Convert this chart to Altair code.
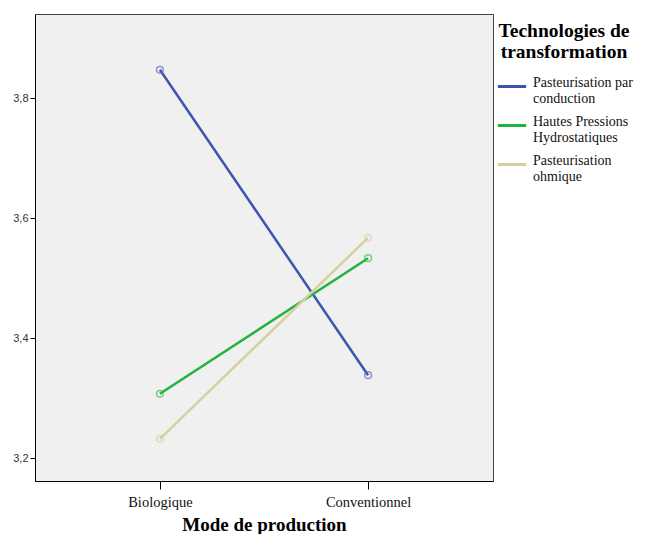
import altair as alt
import pandas as pd

modes = ["Biologique", "Conventionnel"]
series = ["Pasteurisation par conduction", "Hautes Pressions Hydrostatiques", "Pasteurisation ohmique"]
values = {
    "Pasteurisation par conduction": [3.847, 3.338],
    "Hautes Pressions Hydrostatiques": [3.307, 3.533],
    "Pasteurisation ohmique": [3.232, 3.567],
}
line_colors = ["#3E55AE", "#22B33E", "#D6D09C"]
point_colors = ["#5A6EC0", "#3DBE55", "#D8D3A6"]
y_ticks = [3.2, 3.4, 3.6, 3.8]

rows = []
for s in series:
    for m, v in zip(modes, values[s]):
        rows.append({"mode": m, "tech": s, "val": v})
df = pd.DataFrame(rows)

label_expr = ("{'Pasteurisation par conduction': ['\u2009Pasteurisation par', 'conduction'],"
              " 'Hautes Pressions Hydrostatiques': ['Hautes Pressions', 'Hydrostatiques'],"
              " 'Pasteurisation ohmique': ['\u2009Pasteurisation', 'ohmique']}[datum.label]")

x = alt.X("mode:N", sort=modes, title="Mode de production",
          scale=alt.Scale(type="point", padding=0.6),
          axis=alt.Axis(labelAngle=0, labelFont="Liberation Serif", labelFontSize=14.5,
                        labelColor="#111", titleFont="Liberation Serif", titleFontSize=19,
                        titleFontWeight="bold", titleColor="#000", tickSize=8, tickColor="#000",
                        domainColor="#000", labelPadding=6, titlePadding=7, grid=False))
y = alt.Y("val:Q", title=None,
          scale=alt.Scale(domain=[3.1617, 3.94], nice=False, zero=False),
          axis=alt.Axis(values=y_ticks, labelExpr="replace(format(datum.value, '.1f'), '.', ',')",
                        labelFont="Liberation Sans", labelFontSize=11, labelColor="#333",
                        tickSize=5, tickColor="#000", domainColor="#000", grid=False,
                        labelPadding=2))

lines = alt.Chart(df).mark_line(strokeWidth=2.5).encode(
    x=x, y=y,
    color=alt.Color("tech:N", sort=series,
                    scale=alt.Scale(domain=series, range=line_colors),
                    legend=alt.Legend(title=["Technologies de", "transformation"],
                                      titleFont="Liberation Serif", titleFontSize=19.5,
                                      titleFontWeight="bold", titleColor="#000",
                                      titleAnchor="middle", titleAlign="center",
                                      titleLineHeight=21, titlePadding=8,
                                      labelExpr=label_expr, labelFont="Liberation Serif",
                                      labelFontSize=14, labelColor="#111", labelLimit=220,
                                      labelBaseline="alphabetic",
                                      labelOffset=5, symbolType="stroke", symbolSize=800,
                                      symbolStrokeWidth=3, rowPadding=4,
                                      orient="none", legendX=461, legendY=8, padding=0)),
    detail="tech:N",
)
points = alt.Chart(df).mark_point(filled=False, size=45, strokeWidth=1.5).encode(
    x=x, y=y,
    stroke=alt.Stroke("tech:N", sort=series,
                      scale=alt.Scale(domain=series, range=point_colors), legend=None),
)

chart = alt.layer(lines, points).resolve_scale(stroke="independent").properties(
    width=458, height=467,
    autosize=alt.AutoSizeParams(type="none"),
    padding={"left": 27, "top": 6, "right": 145, "bottom": 53},
    background="white",
).configure_view(fill="#F0F0F0", stroke="#444", strokeWidth=1)

chart.save("out.html", embed_options={"renderer": "svg", "actions": False})
